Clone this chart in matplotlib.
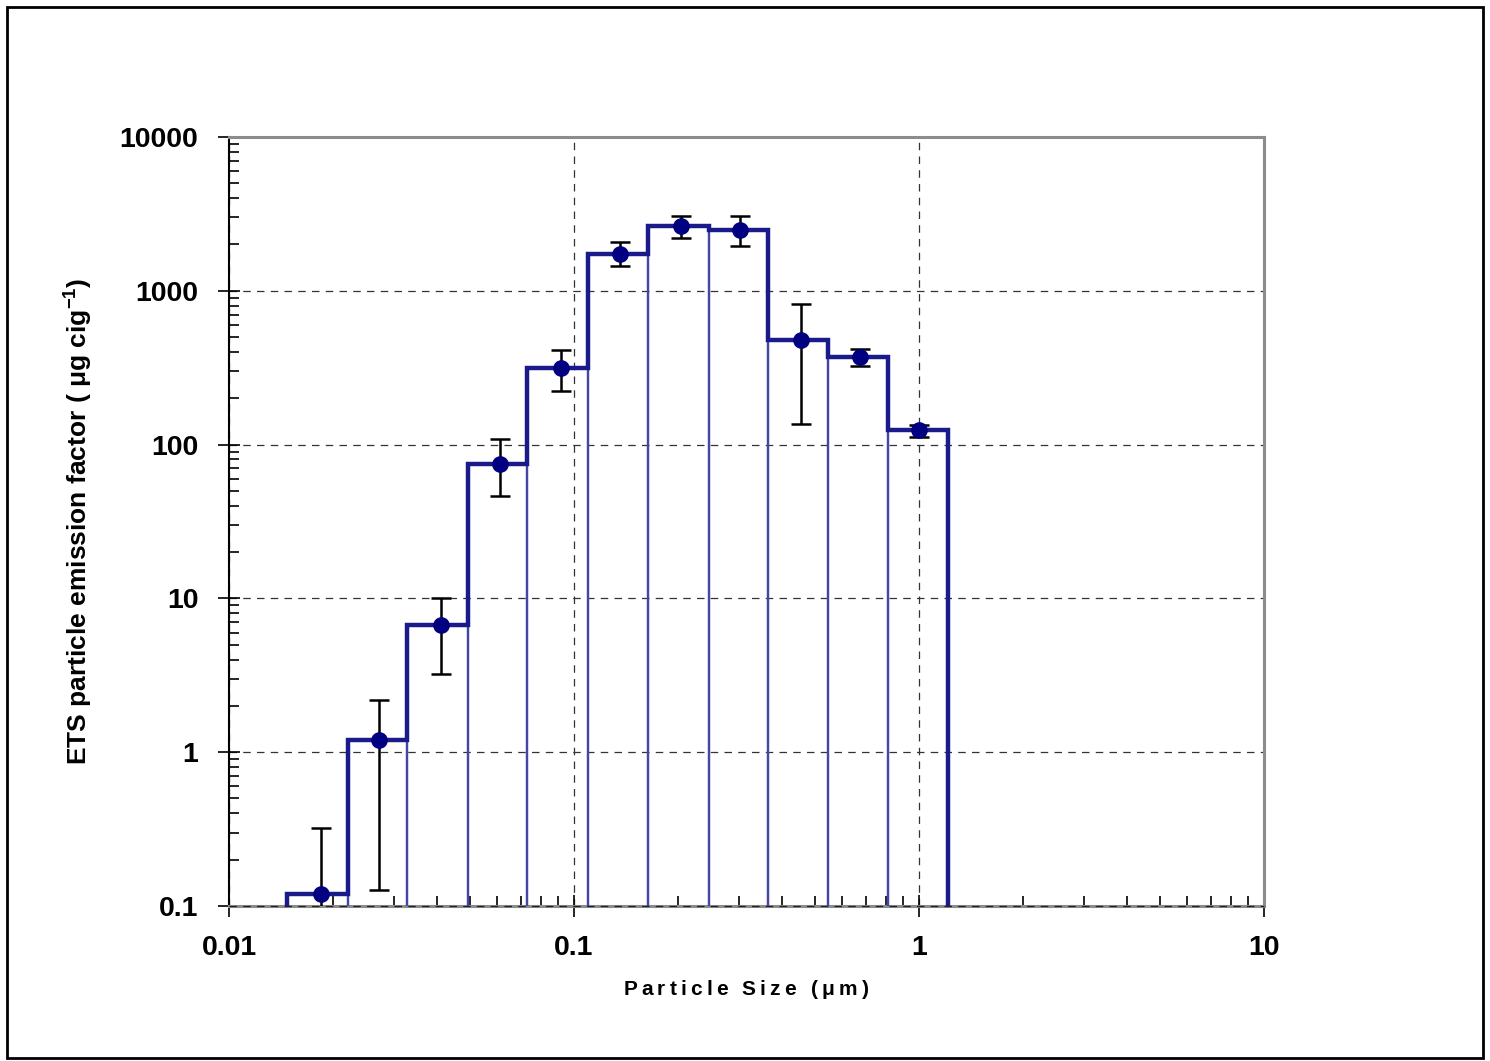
import numpy as np
import matplotlib.pyplot as plt
from matplotlib.patches import Rectangle
from matplotlib.ticker import LogLocator, FixedFormatter, FixedLocator

plt.rcParams['font.family'] = ['Liberation Sans', 'DejaVu Sans']
plt.rcParams['font.weight'] = 'bold'
plt.rcParams['mathtext.fontset'] = 'custom'
plt.rcParams['mathtext.rm'] = 'Liberation Sans:bold'
plt.rcParams['mathtext.it'] = 'Liberation Sans:bold'
plt.rcParams['mathtext.bf'] = 'Liberation Sans:bold'
plt.rcParams['mathtext.default'] = 'rm'

# bin edges (um) and emission factor per bin (ug/cig)
edges = [0.0147, 0.0221, 0.0328, 0.0493, 0.0731, 0.110, 0.164, 0.246, 0.365, 0.544, 0.813, 1.21]
ef = [0.12, 1.2, 6.7, 75, 316, 1740, 2640, 2490, 480, 372, 125]

# stage midpoints with error range
mid = [0.0185, 0.0272, 0.0412, 0.0610, 0.0917, 0.136, 0.204, 0.303, 0.455, 0.675, 1.0]
err_hi = [0.32, 2.2, 10.1, 108, 414, 2080, 3070, 3070, 824, 420, 135]
err_lo = [0.05, 0.127, 3.2, 46, 224, 1450, 2210, 1960, 137, 326, 112]

x_ticks = [0.01, 0.1, 1, 10]
x_labels = ['0.01', '0.1', '1', '10']
y_ticks = [0.1, 1, 10, 100, 1000, 10000]
y_labels = ['0.1', '1', '10', '100', '1000', '10000']

fig = plt.figure(figsize=(14.9, 10.61), dpi=100)
ax = fig.add_axes([0.1537, 0.1461, 0.6946, 0.7248])

base = 0.09
widths = np.diff(edges)
ax.bar(edges[:-1], np.array(ef) - base, width=widths, bottom=base, align='edge',
       fill=False, edgecolor='#4545a5', linewidth=1.6, zorder=3)
ax.stairs(ef, edges, baseline=base, color='#1a1a8a', linewidth=3.2, zorder=4)

ef_mid = np.array(ef)
yerr = [ef_mid - np.array(err_lo), np.array(err_hi) - ef_mid]
ax.errorbar(mid, ef, yerr=yerr, fmt='none', ecolor='black', elinewidth=1.8,
            capsize=7.5, capthick=1.8, zorder=5)
ax.plot(mid, ef, 'o', color='#000080', markersize=11, zorder=6)

ax.set_xscale('log')
ax.set_yscale('log')
ax.set_xlim(0.01, 10)
ax.set_ylim(0.1, 10000)

ax.xaxis.set_major_locator(FixedLocator(x_ticks))
ax.xaxis.set_major_formatter(FixedFormatter(x_labels))
ax.yaxis.set_major_locator(FixedLocator(y_ticks))
ax.yaxis.set_major_formatter(FixedFormatter(y_labels))
ax.xaxis.set_minor_locator(LogLocator(base=10, subs=np.arange(2, 10)))
ax.yaxis.set_minor_locator(LogLocator(base=10, subs=np.arange(2, 10)))
ax.xaxis.set_minor_formatter(FixedFormatter([]))
ax.yaxis.set_minor_formatter(FixedFormatter([]))

ax.tick_params(which='major', direction='inout', length=16, width=1.2, labelsize=20.5, pad=14)
ax.tick_params(which='minor', direction='in', length=7, width=1.2)
ax.tick_params(axis='x', which='major', pad=13)

ax.grid(True, which='major', linestyle=(0, (6, 5)), color='#333333', linewidth=0.9)
ax.set_axisbelow(True)

for side in ['top', 'right', 'bottom']:
    ax.spines[side].set_color('#8c8c8c')
    ax.spines[side].set_linewidth(2.2)
ax.spines['left'].set_color('black')
ax.spines['left'].set_linewidth(1.5)
# dashed gridline drawn over the bottom spine, as in the original
ax.axhline(0.1, linestyle=(0, (6, 5)), color='#222222', linewidth=0.9, zorder=2.6, clip_on=False)

thin = '\u2009'
xlab = thin.join('Particle Size (') + thin + '$\\mu$' + thin + 'm' + thin + ')'
ax.set_xlabel(xlab, fontsize=15, fontweight='bold', labelpad=12)
ax.set_ylabel('ETS particle emission factor ( $\\mu$g cig$^{-1}$)', fontsize=19,
              fontweight='bold', labelpad=18)

fig.patches.append(Rectangle((0.005, 0.003), 0.99, 0.99, transform=fig.transFigure,
                             fill=False, edgecolor='black', linewidth=2))

fig.savefig('out.png', dpi=100)
